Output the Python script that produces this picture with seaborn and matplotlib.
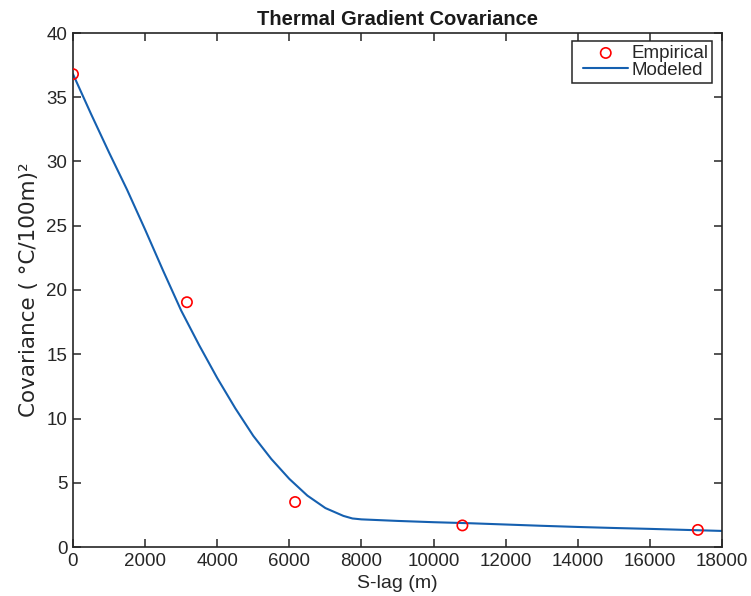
import numpy as np
import pandas as pd
import matplotlib
matplotlib.use("Agg")
import matplotlib.pyplot as plt
import seaborn as sns
from matplotlib.lines import Line2D
from matplotlib.collections import PathCollection
from matplotlib.legend_handler import HandlerLine2D, HandlerPathCollection

# Empirical covariance points
emp_lag = [0, 3160, 6160, 10800, 17330]
emp_cov = [36.8, 19.05, 3.5, 1.68, 1.33]

# Modeled covariance curve
mod_lag = [0, 500, 1000, 1500, 2000, 2500, 3000, 3500, 4000, 4500, 5000,
           5500, 6000, 6500, 7000, 7500, 7750, 8000, 9000, 10000, 11000,
           12000, 13000, 14000, 15000, 16000, 17000, 18000]
mod_cov = [36.8, 33.7, 30.7, 27.8, 24.7, 21.5, 18.4, 15.7, 13.15, 10.8, 8.65,
           6.85, 5.3, 4.0, 3.03, 2.42, 2.22, 2.15, 2.03, 1.93, 1.85,
           1.75, 1.65, 1.56, 1.48, 1.41, 1.33, 1.25]

title = "Thermal Gradient Covariance"
xlabel = "S-lag (m)"
ylabel = "Covariance ( \u00b0C/100m)\u00b2"
xticks = [0, 2000, 4000, 6000, 8000, 10000, 12000, 14000, 16000, 18000]
yticks = [0, 5, 10, 15, 20, 25, 30, 35, 40]

sns.set_style("ticks")
plt.rcParams["font.family"] = ["Liberation Sans", "DejaVu Sans"]

fig = plt.figure(figsize=(7.51, 5.96), dpi=100)
ax = fig.add_axes([73 / 751, 1 - 547 / 596, (722 - 73) / 751, (547 - 33) / 596])

emp_df = pd.DataFrame({"lag": emp_lag, "cov": emp_cov})
mod_df = pd.DataFrame({"lag": mod_lag, "cov": mod_cov})

sns.lineplot(data=mod_df, x="lag", y="cov", ax=ax, color="#1560B0", lw=1.5,
             label="Modeled", zorder=2)
sns.scatterplot(data=emp_df, x="lag", y="cov", ax=ax, marker="o", s=55,
                facecolors="none", edgecolor="#FF0000", linewidth=1.2,
                label="Empirical", zorder=3)

ax.set_xlim(0, 18000)
ax.set_ylim(0, 40)
ax.set_xticks(xticks)
ax.set_yticks(yticks)
ax.set_xticklabels([str(t) for t in xticks])
ax.set_yticklabels([str(t) for t in yticks])

for s in ax.spines.values():
    s.set_visible(True)
    s.set_color("#262626")
    s.set_linewidth(1.2)
ax.tick_params(direction="in", length=6, width=1.1, color="#262626",
               top=True, right=True, labelsize=13.5, labelcolor="#262626", pad=4)

ax.set_title(title, fontsize=14.5, fontweight="bold", color="#1a1a1a", pad=6)
ax.set_xlabel(xlabel, fontsize=14, color="#262626", labelpad=4)
ax.set_ylabel(ylabel, fontsize=15.5, color="#262626", labelpad=5,
              family=["DejaVu Sans"])

handles, labels = ax.get_legend_handles_labels()
order = [labels.index("Empirical"), labels.index("Modeled")]
x1, y1 = ax.transAxes.inverted().transform(fig.transFigure.transform((712 / 751, 1 - 41 / 596)))
leg = ax.legend([handles[i] for i in order], [labels[i] for i in order],
                loc="upper right", bbox_to_anchor=(x1, y1), borderaxespad=0.0,
                fontsize=13.5, frameon=True, fancybox=False,
                edgecolor="#262626", framealpha=1, borderpad=0.2,
                handlelength=2.8, handletextpad=0.16, labelspacing=0.0,
                handler_map={Line2D: HandlerLine2D(xpad=0.4),
                             PathCollection: HandlerPathCollection(xpad=0.4)})
leg.get_frame().set_linewidth(1.1)

fig.savefig("out.png", dpi=100, facecolor="white")
